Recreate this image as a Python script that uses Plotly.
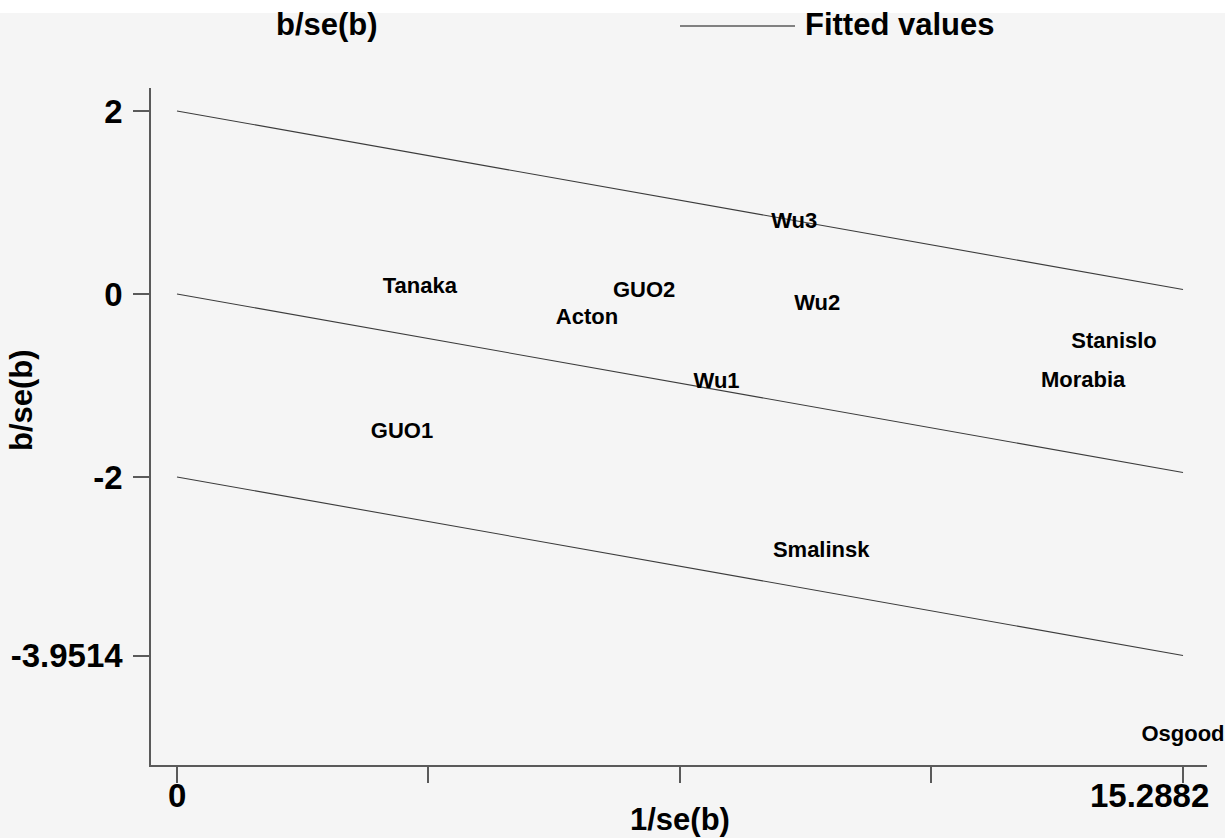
import plotly.graph_objects as go

# Galbraith plot: standardised effects (b/se(b)) against precision (1/se(b))
studies = ["Tanaka", "GUO2", "Acton", "Wu3", "Wu2", "Wu1",
           "Stanislo", "Morabia", "GUO1", "Smalinsk", "Osgood"]
precision = [3.69, 7.10, 6.23, 9.38, 9.73, 8.20, 14.24, 13.77, 3.42, 9.79, 15.2882]
z_score = [0.07, 0.025, -0.266, 0.784, -0.12, -0.969, -0.535, -0.962, -1.516, -2.816, -4.83]

# Fitted line through the origin and its +/-2 band
precision_max = 15.2882
fitted_at_max = -1.9514
band_offsets = [2, 0, -2]

x_tickvals = [0, precision_max / 4, precision_max / 2, 3 * precision_max / 4, precision_max]
x_ticktext = ["0", "15.2882"]
y_tickvals = [2, 0, -2, -3.9514]
y_ticktext = ["2", "0", "-2", "-3.9514"]

FONT = "Liberation Sans, Arial, sans-serif"
BG = "#f5f5f5"
AXIS_GREY = "#5a5a5a"
LINE_GREY = "#3c3c3c"

W, H = 1225, 838
ML, MR, MT, MB = 151, 18, 88, 73
PW, PH = W - ML - MR, H - MT - MB


def px_x(px):
    return (px - ML) / PW


def px_y(py):
    return (H - MB - py) / PH


fig = go.Figure()

for off in band_offsets:
    fig.add_trace(go.Scatter(
        x=[0, precision_max],
        y=[0 + off, fitted_at_max + off],
        mode="lines",
        line=dict(color=LINE_GREY, width=1.1),
        hoverinfo="skip",
        showlegend=False,
    ))

fig.add_trace(go.Scatter(
    x=precision,
    y=z_score,
    mode="text",
    text=studies,
    textposition="middle center",
    textfont=dict(family=FONT, size=22, color="black", weight="bold"),
    cliponaxis=False,
    showlegend=False,
))

fig.update_xaxes(
    range=[-0.395, 15.653],
    automargin=False,
    showgrid=False, zeroline=False,
    showline=True, linecolor=AXIS_GREY, linewidth=1.5,
    ticks="outside", ticklen=16, tickwidth=1.5, tickcolor=AXIS_GREY,
    tickvals=x_tickvals, showticklabels=False,
)
fig.update_yaxes(
    range=[-5.148, 2.251],
    automargin=False,
    showgrid=False, zeroline=False,
    showline=True, linecolor=AXIS_GREY, linewidth=1.5,
    ticks="outside", ticklen=16, tickwidth=1.5, tickcolor=AXIS_GREY,
    tickvals=y_tickvals, ticktext=y_ticktext,
    tickfont=dict(family=FONT, size=33, color="black", weight="bold"),
    ticklabelstandoff=4,
)

annotations = [
    # x tick labels
    dict(x=x_tickvals[0], y=px_y(795), xref="x", yref="paper",
         text=x_ticktext[0], showarrow=False, xanchor="center", yanchor="middle",
         font=dict(family=FONT, size=33, color="black", weight="bold")),
    dict(x=x_tickvals[-1], y=px_y(795), xref="x", yref="paper",
         text=x_ticktext[1], showarrow=False, xanchor="right", yanchor="middle",
         xshift=28,
         font=dict(family=FONT, size=33, color="black", weight="bold")),
    # axis titles
    dict(x=px_x(680), y=px_y(820), xref="paper", yref="paper",
         text="1/se(b)", showarrow=False, xanchor="center", yanchor="middle",
         font=dict(family=FONT, size=31, color="black", weight="bold")),
    dict(x=px_x(21), y=px_y(400), xref="paper", yref="paper",
         text="b/se(b)", showarrow=False, xanchor="center", yanchor="middle",
         textangle=-90,
         font=dict(family=FONT, size=31, color="black", weight="bold")),
    # legend entries
    dict(x=px_x(327), y=px_y(25), xref="paper", yref="paper",
         text="b/se(b)", showarrow=False, xanchor="center", yanchor="middle",
         font=dict(family=FONT, size=31, color="black", weight="bold")),
    dict(x=px_x(803), y=px_y(25), xref="paper", yref="paper",
         text="Fitted values", showarrow=False, xanchor="left", yanchor="middle",
         font=dict(family=FONT, size=31, color="black", weight="bold")),
]

shapes = [
    # graph region background (white strip left at the very top)
    dict(type="rect", xref="paper", yref="paper",
         x0=px_x(0), x1=px_x(W), y0=px_y(H), y1=px_y(13),
         fillcolor=BG, line=dict(width=0), layer="below"),
    # legend key for the fitted line
    dict(type="line", xref="paper", yref="paper",
         x0=px_x(680), x1=px_x(795), y0=px_y(26), y1=px_y(26),
         line=dict(color=AXIS_GREY, width=1.5)),
]

fig.update_layout(
    width=W, height=H, autosize=False,
    margin=dict(l=ML, r=MR, t=MT, b=MB, pad=0, autoexpand=False),
    paper_bgcolor="white",
    plot_bgcolor=BG,
    showlegend=False,
    annotations=annotations,
    shapes=shapes,
)

fig.write_html("out.html")
